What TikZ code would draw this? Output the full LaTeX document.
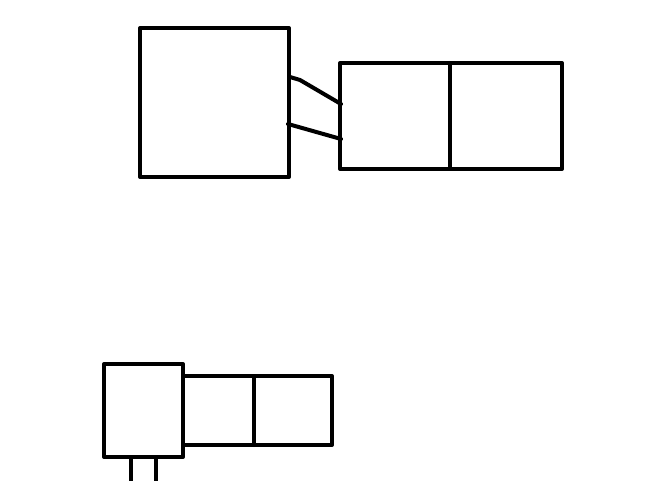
\documentclass[tikz,border=0pt]{standalone}
\begin{document}
\begin{tikzpicture}[x=0.75pt,y=-0.75pt,
  sk/.style={draw=black,line width=3pt,line cap=round,line join=round}]
\useasboundingbox (0,0) rectangle (671,481);
% top group
\draw[sk] (140,28) rectangle (289,177);
\draw[sk] (340,63) rectangle (562,169);
\draw[sk] (450,63) -- (450,169);
\coordinate (u1) at (290,77);
\coordinate (u2) at (341,104);
\coordinate (l1) at (288,124);
\coordinate (l2) at (341,139);
\draw[sk] (u1) -- (300,80) -- (u2);
\draw[sk] (l1) -- (l2);
% bottom group
\draw[sk] (104,364) rectangle (183,457);
\draw[sk] (185,376) -- (332,376) -- (332,445) -- (183,445);
\draw[sk] (254,376) -- (254,445);
\coordinate (a1) at (131,457);
\coordinate (a2) at (131,485);
\coordinate (b1) at (156,457);
\coordinate (b2) at (156,485);
\draw[sk,line cap=butt] (a1) -- (a2);
\draw[sk,line cap=butt] (b1) -- (b2);
\end{tikzpicture}
\end{document}
